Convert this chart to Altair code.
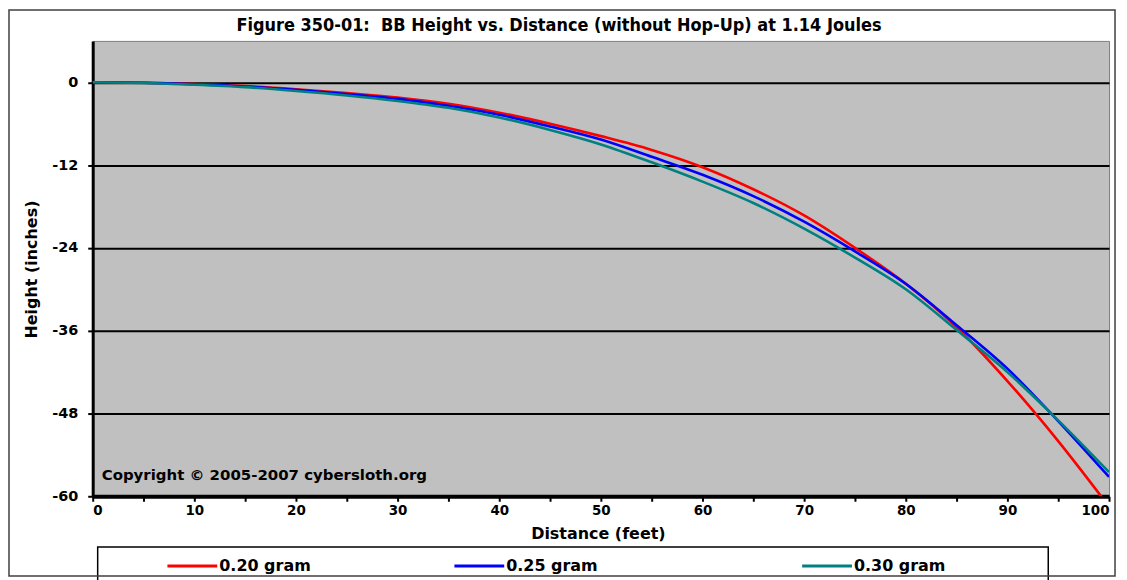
import altair as alt
import pandas as pd

# ---- data ----
distance = [0, 5, 10, 15, 20, 25, 30, 35, 40, 45, 50, 55, 60, 65, 70, 75, 80, 85, 90, 95, 100]
h_020 = [0, -0.06, -0.25, -0.55, -1.0, -1.55, -2.2, -3.1, -4.4, -6.0, -7.8, -9.8, -12.3, -15.5, -19.3, -24.0, -29.2, -35.5, -43.3, -52.0, -61.5]
h_025 = [0, -0.07, -0.28, -0.6, -1.1, -1.7, -2.4, -3.4, -4.7, -6.4, -8.3, -10.8, -13.4, -16.5, -20.2, -24.5, -29.2, -35.2, -41.5, -49.1, -57.2]
h_030 = [0, -0.1, -0.35, -0.7, -1.25, -1.9, -2.7, -3.7, -5.1, -6.9, -9.0, -11.6, -14.4, -17.5, -21.2, -25.4, -30.0, -35.9, -42.0, -49.0, -56.5]

series_names = ["0.20 gram", "0.25 gram", "0.30 gram"]
series_colors = ["#FF0000", "#0000FF", "#008080"]
y_ticks = [0, -12, -24, -36, -48, -60]
x_ticks = list(range(0, 101, 5))

title_text = "Figure 350-01:\u00a0 BB Height vs. Distance (without Hop-Up) at 1.14 Joules"
copyright_text = "Copyright \u00a9 2005-2007 cybersloth.org"

rows = []
for name, vals in zip(series_names, [h_020, h_025, h_030]):
    for d, h in zip(distance, vals):
        rows.append({"distance": d, "height": h, "series": name})
df = pd.DataFrame(rows)

W, H = 1020, 457
FONT = "DejaVu Sans"

x_scale = alt.Scale(domain=[0, 100], nice=False, zero=False)
y_scale = alt.Scale(domain=[-60, 6], nice=False, zero=False)

lines = alt.Chart(df).mark_line(strokeWidth=2.6, clip=True, interpolate="monotone").encode(
    x=alt.X("distance:Q", scale=x_scale,
            axis=alt.Axis(values=x_ticks, grid=False,
                          labelExpr="datum.value % 10 == 0 ? datum.label : ''",
                          title="Distance (feet)", titleX=507, titleY=37,
                          titleBaseline="middle", titleFont=FONT, titleFontSize=16,
                          titleFontWeight="bold", titleColor="black",
                          labelFont=FONT, labelFontSize=13.5, labelFontWeight="bold",
                          labelColor="black", labelPadding=2,
                          domainColor="black", domainWidth=4,
                          tickColor="black", tickWidth=2, tickSize=5)),
    y=alt.Y("height:Q", scale=y_scale,
            axis=alt.Axis(values=y_ticks, grid=True, gridColor="black", gridWidth=2,
                          gridOpacity=1, labelExpr="'' + datum.value",
                          title="Height (inches)", titleX=-61, titleY=229,
                          titleAlign="center", titleBaseline="middle",
                          titleFont=FONT, titleFontSize=16, titleFontWeight="bold",
                          titleColor="black",
                          labelFont=FONT, labelFontSize=14.5, labelFontWeight="bold",
                          labelColor="black", labelPadding=10,
                          domainColor="black", domainWidth=3,
                          tickColor="black", tickWidth=2, tickSize=5)),
    color=alt.Color("series:N", scale=alt.Scale(domain=series_names, range=series_colors),
                    legend=None),
)

title_mark = alt.Chart(pd.DataFrame({"t": [title_text]})).mark_text(
    font="DejaVu Sans Condensed", fontSize=18, fontWeight="bold", color="black",
    align="center", baseline="middle"
).encode(x=alt.value(468), y=alt.value(-15), text="t:N")

copy_mark = alt.Chart(pd.DataFrame({"t": [copyright_text]})).mark_text(
    font=FONT, fontSize=15, fontWeight="bold", color="black",
    align="left", baseline="middle"
).encode(x=alt.value(9), y=alt.value(436), text="t:N")

frame = alt.Chart(pd.DataFrame({"a": [0]})).mark_rect(
    fill=None, stroke="#404040", strokeWidth=1.5
).encode(x=alt.value(-84), x2=alt.value(1026), y=alt.value(-31), y2=alt.value(537))

legend_box = alt.Chart(pd.DataFrame({"a": [0]})).mark_rect(
    fill="white", stroke="black", strokeWidth=1.5
).encode(x=alt.value(5), x2=alt.value(959), y=alt.value(508), y2=alt.value(560))

legend_layers = [legend_box]
legend_x = [75, 363, 712]
for name, col, lx in zip(series_names, series_colors, legend_x):
    legend_layers.append(
        alt.Chart(pd.DataFrame({"a": [0]})).mark_rule(color=col, strokeWidth=3).encode(
            x=alt.value(lx), x2=alt.value(lx + 50), y=alt.value(527))
    )
    legend_layers.append(
        alt.Chart(pd.DataFrame({"t": [name]})).mark_text(
            font=FONT, fontSize=16, fontWeight="bold", color="black",
            align="left", baseline="middle"
        ).encode(x=alt.value(lx + 52), y=alt.value(527), text="t:N")
    )

chart = alt.layer(lines, copy_mark, title_mark, *legend_layers, frame).properties(
    width=W, height=H,
    autosize=alt.AutoSizeParams(type="none"),
    padding={"left": 85, "top": 32, "right": 10, "bottom": 83},
    background="white",
).configure_view(fill="#C0C0C0", stroke="#808080", strokeWidth=1)

chart.save("out.html", embed_options={"renderer": "svg", "actions": False})
